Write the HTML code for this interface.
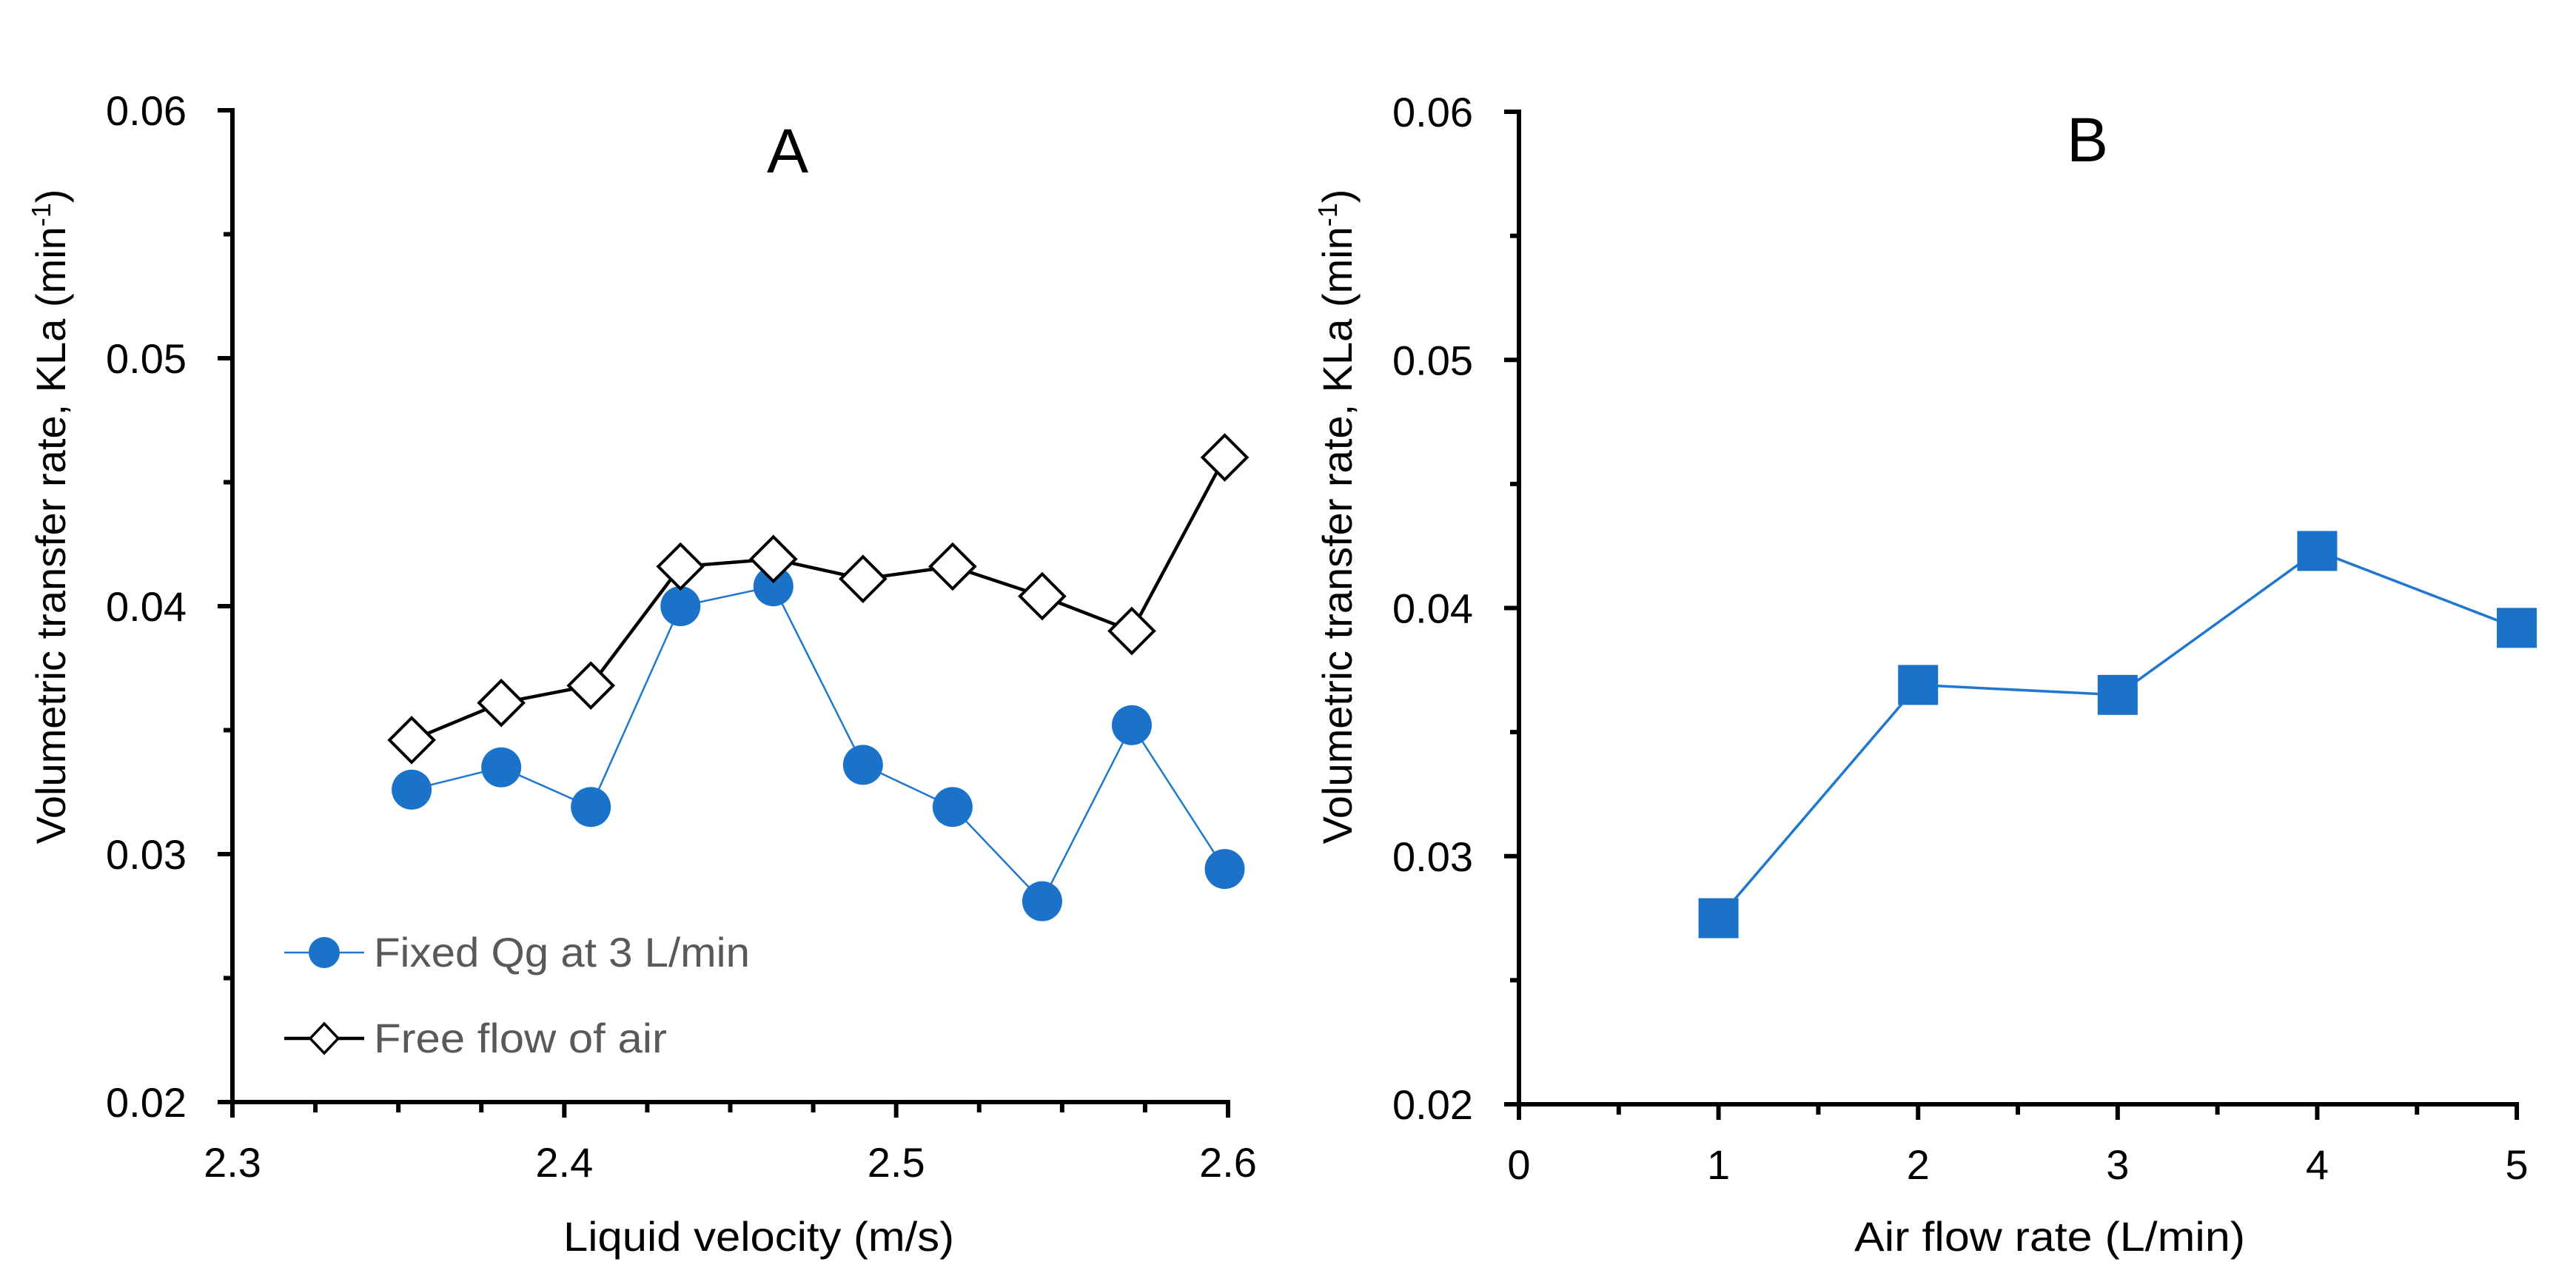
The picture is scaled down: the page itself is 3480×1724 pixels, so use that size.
<!DOCTYPE html>
<html><head><meta charset="utf-8"><style>
html,body{margin:0;padding:0;background:#fff;}
svg{display:block;font-family:"Liberation Sans",Arial,sans-serif;}
</style></head><body>
<svg id="fig" width="3480" height="1724" viewBox="0 0 3480 1724" xmlns="http://www.w3.org/2000/svg">
<rect width="3480" height="1724" fill="#fff"/>
<g id="chartA"></g>
<g id="chartB"></g>
</svg>
<script>
// Chart A data
const velocity = [2.354, 2.381, 2.408, 2.435, 2.463, 2.490, 2.517, 2.544, 2.571, 2.599];
const fixedQg = [0.0326, 0.0335, 0.0319, 0.0400, 0.0408, 0.0336, 0.0319, 0.0281, 0.0352, 0.0294];
const freeFlow = [0.0346, 0.0361, 0.0368, 0.0416, 0.0419, 0.0411, 0.0416, 0.0404, 0.0390, 0.0460];
const xTicksA = ["2.3", "2.4", "2.5", "2.6"];
// Chart B data
const airFlow = [1, 2, 3, 4, 5];
const kla = [0.0275, 0.0369, 0.0365, 0.0423, 0.0392];
const xTicksB = ["0", "1", "2", "3", "4", "5"];
const yTicks = ["0.02", "0.03", "0.04", "0.05", "0.06"];

const NS = "http://www.w3.org/2000/svg";
function mk(parent, tag, attrs, text) {
  const e = document.createElementNS(NS, tag);
  for (const k in attrs) e.setAttribute(k, attrs[k]);
  if (text !== undefined) e.textContent = text;
  parent.appendChild(e);
  return e;
}

function drawAxes(g, cfg) {
  const { x0, x1, yTop, yBot, xmin, xmax, xMajor, xMinor, xLabels, xTitle, xTitleX, yTitleX, panelLetter, letterX, letterY } = cfg;
  const sx = v => x0 + (v - xmin) / (xmax - xmin) * (x1 - x0);
  const sy = v => yBot - (v - 0.02) / 0.04 * (yBot - yTop);
  for (let v = 0.02; v <= 0.0601; v += 0.005) {
    const major = Math.abs(Math.round(v * 100) - v * 100) < 1e-6;
    const t = mk(g, "line", { x1: x0 - (major ? 20 : 12), x2: x0, y1: sy(v), y2: sy(v), stroke: "#000", "stroke-width": 6 });
    
    
  }
  yTicks.forEach(lbl => {
    const v = parseFloat(lbl);
    const t = mk(g, "text", { x: x0 - 62, y: sy(v) + 20, "text-anchor": "end", "font-size": 56, fill: "#000" }, lbl);
    
    
  });
  for (let v = xmin; v <= xmax + 1e-9; v += xMinor) {
    const r = (v - xmin) / xMajor;
    const major = Math.abs(r - Math.round(r)) < 1e-6;
    const t = mk(g, "line", { x1: sx(v), x2: sx(v), y1: yBot, y2: yBot + (major ? 21 : 14), stroke: "#000", "stroke-width": 6 });
    
    
  }
  xLabels.forEach(lbl => {
    const v = parseFloat(lbl);
    const t = mk(g, "text", { x: sx(v), y: yBot + 101, "text-anchor": "middle", "font-size": 56, fill: "#000" }, lbl);
    
    
  });
  const ya = mk(g, "line", { x1: x0, x2: x0, y1: yTop - 3, y2: yBot + 3, stroke: "#000", "stroke-width": 6 });
  
  
  const xa = mk(g, "line", { x1: x0 - 3, x2: x1 + 3, y1: yBot, y2: yBot, stroke: "#000", "stroke-width": 6 });
  
  
  const xt = mk(g, "text", { x: xTitleX, y: 1690, "text-anchor": "middle", "font-size": 56, fill: "#000", textLength: 528, lengthAdjust: "spacingAndGlyphs" }, xTitle);
  
  
  const yt = mk(g, "text", { x: 0, y: 0, "text-anchor": "middle", "font-size": 56, fill: "#000", transform: `translate(${yTitleX},698) rotate(-90)` });
  
  
  mk(yt, "tspan", {}, "Volumetric transfer rate, KLa (min");
  mk(yt, "tspan", { "font-size": 36, dy: -20 }, "-1");
  mk(yt, "tspan", { dy: 20 }, ")");
  const pl = mk(g, "text", { x: letterX, y: letterY, "text-anchor": "middle", "font-size": 84, fill: "#000" }, panelLetter);
  
  
  return { sx, sy };
}

// ---- Chart A ----
const gA = document.getElementById("chartA");
const A = drawAxes(gA, { x0: 314, x1: 1659, yTop: 149, yBot: 1489, xmin: 2.3, xmax: 2.6, xMajor: 0.1, xMinor: 0.025, xLabels: xTicksA, xTitle: "Liquid velocity (m/s)", xTitleX: 1025, yTitleX: 88, panelLetter: "A", letterX: 1064, letterY: 233 });

const blueLine = mk(gA, "polyline", { points: velocity.map((v, i) => A.sx(v) + "," + A.sy(fixedQg[i])).join(" "), fill: "none", stroke: "#1f77d0", "stroke-width": 2.5 });


const blackLine = mk(gA, "polyline", { points: velocity.map((v, i) => A.sx(v) + "," + A.sy(freeFlow[i])).join(" "), fill: "none", stroke: "#000", "stroke-width": 4.5 });


velocity.forEach((v, i) => {
  const c = mk(gA, "circle", { cx: A.sx(v), cy: A.sy(fixedQg[i]), r: 27, fill: "#1a73c9" });
  
  
});
velocity.forEach((v, i) => {
  const x = A.sx(v), y = A.sy(freeFlow[i]), r = 30;
  const d = mk(gA, "polygon", { points: `${x},${y - r} ${x + r},${y} ${x},${y + r} ${x - r},${y}`, fill: "#fff", stroke: "#000", "stroke-width": 4 });
  
  
});
// legend
const leg = mk(gA, "g", {});


const l1 = mk(leg, "g", {});


mk(l1, "line", { x1: 384, x2: 492, y1: 1287, y2: 1287, stroke: "#1f77d0", "stroke-width": 2.5 });
mk(l1, "circle", { cx: 438, cy: 1287, r: 21, fill: "#1a73c9" });
mk(l1, "text", { x: 505, y: 1306, "font-size": 56, fill: "#595959", textLength: 508, lengthAdjust: "spacingAndGlyphs" }, "Fixed Qg at 3 L/min");
const l2 = mk(leg, "g", {});


mk(l2, "line", { x1: 384, x2: 492, y1: 1403, y2: 1403, stroke: "#000", "stroke-width": 4.5 });
mk(l2, "polygon", { points: "438,1383 457,1403 438,1423 419,1403", fill: "#fff", stroke: "#000", "stroke-width": 3.5 });
mk(l2, "text", { x: 505, y: 1422, "font-size": 56, fill: "#595959", textLength: 396, lengthAdjust: "spacingAndGlyphs" }, "Free flow of air");

// ---- Chart B ----
const gB = document.getElementById("chartB");
const B = drawAxes(gB, { x0: 2052, x1: 3400, yTop: 151, yBot: 1492, xmin: 0, xmax: 5, xMajor: 1, xMinor: 0.5, xLabels: xTicksB, xTitle: "Air flow rate (L/min)", xTitleX: 2769, yTitleX: 1826, panelLetter: "B", letterX: 2820, letterY: 218 });
const bLine = mk(gB, "polyline", { points: airFlow.map((v, i) => B.sx(v) + "," + B.sy(kla[i])).join(" "), fill: "none", stroke: "#1f77d0", "stroke-width": 3.5 });


airFlow.forEach((v, i) => {
  const s = mk(gB, "rect", { x: B.sx(v) - 27, y: B.sy(kla[i]) - 27, width: 54, height: 54, fill: "#1a73c9" });
  
  
});
</script>
</body></html>
